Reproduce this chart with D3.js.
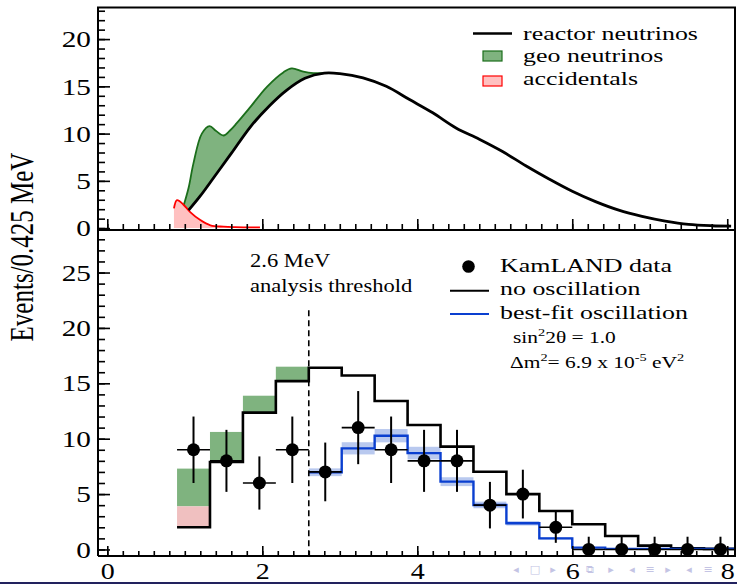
<!DOCTYPE html>
<html>
<head>
<meta charset="utf-8">
<title>KamLAND prompt energy spectrum</title>
<script src="https://d3js.org/d3.v7.min.js"></script>
<style>
body { margin: 0; background: #fff; }
svg { display: block; font-family: "Liberation Serif", "Times New Roman", serif; }
</style>
</head>
<body>
<div id="container"></div>
<script>
// ---------------- data ----------------
// top panel: expected spectra (smooth curves)
const reactorE = [1.05, 1.2, 1.4, 1.6, 1.85, 2.1, 2.3, 2.55, 2.8, 3.0, 3.3, 3.6, 3.9, 4.2, 4.5, 4.8, 5.1, 5.4, 5.7, 6.0, 6.3, 6.6, 6.9, 7.2, 7.5, 7.8, 8.05];
const reactorV = [1.9, 3.4, 5.65, 7.9, 10.75, 13.0, 14.5, 15.85, 16.4, 16.35, 15.9, 15.0, 13.6, 12.2, 10.6, 9.4, 8.1, 6.6, 5.2, 3.9, 2.8, 1.9, 1.25, 0.75, 0.4, 0.25, 0.2];
const geoTopE = [0.98, 1.05, 1.11, 1.22, 1.32, 1.4, 1.5, 1.58, 1.67, 1.845, 2.06, 2.275, 2.38, 2.53, 2.66, 2.8];
const geoTopV = [2.25, 4.3, 6.8, 10.0, 10.8, 10.3, 9.8, 10.3, 11.1, 12.8, 14.95, 16.5, 16.9, 16.55, 16.4, 16.4];
const accE = [0.86, 0.9, 0.98, 1.07, 1.2, 1.33, 1.5, 1.65, 1.97];
const accV = [2.08, 2.96, 2.5, 1.7, 0.85, 0.3, 0.15, 0.1, 0.07];

// bottom panel: 0.425 MeV bins
const binEdges = [0.9, 1.325, 1.75, 2.175, 2.6, 3.025, 3.45, 3.875, 4.3, 4.725, 5.15, 5.575, 6.0, 6.425, 6.85, 7.275, 7.7, 8.125];
const dataCounts = [9, 8, 6, 9, 7, 11, 9, 8, 8, 4, 5, 2, 0, 0, 0, 0, 0];
const dataErr = [3.0, 2.8, 2.4, 3.0, 2.65, 3.3, 3.0, 2.8, 2.8, 2.1, 2.2, 1.4, 1.15, 1.15, 1.15, 1.15, 1.15];
const noOscReactor = [2.0, 7.9, 12.35, 15.2, 16.4, 15.7, 13.4, 11.24, 9.28, 7.02, 5.0, 3.47, 2.27, 1.22, 0.35, 0.1, 0.05];
const accBins = [1.89, 0, 0, 0];
const geoBins = [3.41, 2.71, 1.53, 1.3];
const fitFirstBin = 4;
const bestFit = [6.97, 9.13, 10.27, 8.7, 6.12, 4.02, 2.36, 1.0, 0.17, 0.05, 0.05, 0.05, 0.05];
const bestFitErr = [0.35, 0.55, 0.6, 0.57, 0.4, 0.3, 0.2, 0.1, 0.05, 0, 0, 0, 0];
const threshold = 2.6;
const thresholdTop = 21.6;

const xTicks = [0, 2, 4, 6, 8];
const topYTicks = [0, 5, 10, 15, 20];
const botYTicks = [0, 5, 10, 15, 20, 25];

// ---------------- setup ----------------
const width = 737, height = 584;
const L = 98, R = 735, T = 7.5, M = 230, B = 556;

const svg = d3.select("#container").append("svg")
    .attr("width", width).attr("height", height);

const x = d3.scaleLinear().domain([-0.12, 8.1]).range([L, R]);
const yTop = d3.scaleLinear().domain([-0.2, 23.3]).range([M, 7.9]);
const yBot = d3.scaleLinear().domain([-0.59, 28.84]).range([B, M]);

const defs = svg.append("defs");
defs.append("clipPath").attr("id", "clipTop").append("rect")
    .attr("x", L).attr("y", T).attr("width", R - L).attr("height", M - T);
defs.append("clipPath").attr("id", "clipBot").append("rect")
    .attr("x", L).attr("y", M).attr("width", R - L).attr("height", B - M);

function addText(parent, px, py, size, sx, anchor) {
    return parent.append("text")
        .attr("transform", `translate(${px},${py}) scale(${sx},1)`)
        .attr("font-size", size)
        .attr("text-anchor", anchor || "start")
        .attr("fill", "#000");
}

function stretchLabels(sel, sx) {
    sel.selectAll("text").each(function() {
        const t = d3.select(this);
        const tx = +t.attr("x") || 0, ty = +t.attr("y") || 0;
        t.attr("x", 0).attr("y", 0)
         .attr("transform", `translate(${tx},${ty}) scale(${sx},1)`);
    });
}

function styleAxis(g) {
    g.select(".domain").remove();
    g.selectAll(".tick line").attr("stroke", "#000").attr("stroke-width", 1.6);
    g.selectAll("text").attr("font-size", 24).attr("font-family", "Liberation Serif, serif").attr("fill", "#000");
}

// ---------------- top panel ----------------
const topPanel = svg.append("g").attr("clip-path", "url(#clipTop)");
const curve = d3.curveCatmullRom.alpha(0.5);
const lineTop = d3.line().x(d => x(d[0])).y(d => yTop(d[1])).curve(curve);

const reactorPts = reactorE.map((e, i) => [e, reactorV[i]]);
const geoPts = geoTopE.map((e, i) => [e, geoTopV[i]]);
const lowerPts = reactorPts.filter(p => p[0] <= 2.8).reverse();
const geoPath = lineTop(geoPts) + "L" + lineTop(lowerPts).slice(1) + "Z";

topPanel.append("path").attr("d", geoPath)
    .attr("fill", "#7fb37f").attr("stroke", "none");
topPanel.append("path").attr("d", lineTop(geoPts))
    .attr("fill", "none").attr("stroke", "#1b6e1b").attr("stroke-width", 1.8);

const accPts = accE.map((e, i) => [e, accV[i]]);
topPanel.append("path")
    .attr("d", d3.area().x(d => x(d[0])).y0(yTop(0)).y1(d => yTop(d[1])).curve(curve)(accPts))
    .attr("fill", "#ffc0c0");
topPanel.append("path").attr("d", lineTop(accPts))
    .attr("fill", "none").attr("stroke", "#ff0000").attr("stroke-width", 1.8);

topPanel.append("path").attr("d", lineTop(reactorPts))
    .attr("fill", "none").attr("stroke", "#000").attr("stroke-width", 2.8);

// top axes
const topAxes = svg.append("g");
topAxes.append("g").attr("transform", `translate(${L},0)`)
    .call(d3.axisLeft(yTop).tickValues(d3.range(0, 24, 1)).tickSize(-7).tickFormat(""))
    .call(styleAxis);
const topY = topAxes.append("g").attr("transform", `translate(${L},0)`)
    .call(d3.axisLeft(yTop).tickValues(topYTicks).tickSize(-12).tickPadding(7))
    .call(styleAxis);
stretchLabels(topY, 1.22);
topAxes.append("g").attr("transform", `translate(0,${M})`)
    .call(d3.axisBottom(x).tickValues(d3.range(0, 8.1, 0.2)).tickSize(-6).tickFormat(""))
    .call(styleAxis);
topAxes.append("g").attr("transform", `translate(0,${M})`)
    .call(d3.axisBottom(x).tickValues(xTicks).tickSize(-11).tickFormat(""))
    .call(styleAxis);

// top legend
const tl = svg.append("g");
tl.append("line").attr("x1", 473).attr("x2", 512).attr("y1", 33.5).attr("y2", 33.5)
    .attr("stroke", "#000").attr("stroke-width", 2.5);
tl.append("rect").attr("x", 483).attr("y", 51).attr("width", 19).attr("height", 10)
    .attr("fill", "#7fb37f").attr("stroke", "#1b6e1b").attr("stroke-width", 1.2);
tl.append("rect").attr("x", 483).attr("y", 76).attr("width", 19).attr("height", 10)
    .attr("fill", "#ffc0c0").attr("stroke", "#ff0000").attr("stroke-width", 1.2);
addText(tl, 523, 39.5, 19.5, 1.33).text("reactor neutrinos");
addText(tl, 523, 62, 19.5, 1.33).text("geo neutrinos");
addText(tl, 523, 85, 19.5, 1.33).text("accidentals");

// ---------------- bottom panel ----------------
const bot = svg.append("g").attr("clip-path", "url(#clipBot)");

// stacked backgrounds in the first bins
geoBins.forEach((g, i) => {
    const base = noOscReactor[i] + accBins[i];
    bot.append("rect")
        .attr("x", x(binEdges[i])).attr("width", x(binEdges[i + 1]) - x(binEdges[i]))
        .attr("y", yBot(base + g)).attr("height", yBot(base) - yBot(base + g))
        .attr("fill", "#7fb37f");
});
accBins.forEach((a, i) => {
    if (a <= 0) return;
    const base = noOscReactor[i];
    bot.append("rect")
        .attr("x", x(binEdges[i])).attr("width", x(binEdges[i + 1]) - x(binEdges[i]))
        .attr("y", yBot(base + a)).attr("height", yBot(base) - yBot(base + a))
        .attr("fill", "#f0c0c0");
});

// best-fit uncertainty band
bestFit.forEach((v, j) => {
    const i = j + fitFirstBin, e = bestFitErr[j];
    if (e <= 0) return;
    bot.append("rect")
        .attr("x", x(binEdges[i])).attr("width", x(binEdges[i + 1]) - x(binEdges[i]))
        .attr("y", yBot(v + e)).attr("height", yBot(v - e) - yBot(v + e))
        .attr("fill", "#b9c9ef");
});

const step = d3.line().x(d => x(d[0])).y(d => yBot(d[1])).curve(d3.curveStepAfter);
function stepPts(vals, first) {
    const pts = vals.map((v, j) => [binEdges[j + first], v]);
    pts.push([binEdges[first + vals.length], vals[vals.length - 1]]);
    return pts;
}
bot.append("path").attr("d", step(stepPts(noOscReactor, 0)))
    .attr("fill", "none").attr("stroke", "#000").attr("stroke-width", 2.6);
bot.append("path").attr("d", step(stepPts(bestFit, fitFirstBin)))
    .attr("fill", "none").attr("stroke", "#0a3fd0").attr("stroke-width", 2.4);

// threshold
bot.append("line")
    .attr("x1", x(threshold)).attr("x2", x(threshold))
    .attr("y1", yBot(thresholdTop)).attr("y2", B)
    .attr("stroke", "#000").attr("stroke-width", 1.6).attr("stroke-dasharray", "6,4");

// data points
const pts = bot.append("g");
dataCounts.forEach((n, i) => {
    const c = (binEdges[i] + binEdges[i + 1]) / 2;
    const g = pts.append("g");
    g.append("line")
        .attr("x1", x(c)).attr("x2", x(c))
        .attr("y1", yBot(n + dataErr[i])).attr("y2", yBot(Math.max(0, n - dataErr[i])))
        .attr("stroke", "#000").attr("stroke-width", 2);
    g.append("line")
        .attr("x1", x(binEdges[i])).attr("x2", x(binEdges[i + 1]))
        .attr("y1", yBot(n)).attr("y2", yBot(n))
        .attr("stroke", "#000").attr("stroke-width", 1.6);
    g.append("circle").attr("cx", x(c)).attr("cy", yBot(n)).attr("r", 6.5).attr("fill", "#000");
});

// bottom axes
const botAxes = svg.append("g");
botAxes.append("g").attr("transform", `translate(${L},0)`)
    .call(d3.axisLeft(yBot).tickValues(d3.range(0, 29, 1)).tickSize(-7).tickFormat(""))
    .call(styleAxis);
const botY = botAxes.append("g").attr("transform", `translate(${L},0)`)
    .call(d3.axisLeft(yBot).tickValues(botYTicks).tickSize(-12).tickPadding(7))
    .call(styleAxis);
stretchLabels(botY, 1.22);
botAxes.append("g").attr("transform", `translate(0,${B})`)
    .call(d3.axisBottom(x).tickValues(d3.range(0, 8.1, 0.2)).tickSize(-5).tickFormat(""))
    .call(styleAxis);
const botX = botAxes.append("g").attr("transform", `translate(0,${B})`)
    .call(d3.axisBottom(x).tickValues(xTicks).tickSize(-10).tickPadding(7))
    .call(styleAxis);
botX.selectAll("text").attr("font-size", 23);
stretchLabels(botX, 1.22);

// frame
svg.append("path")
    .attr("d", `M${L},${B}V${T}H${R}V${B}H${L}M${L},${M}H${R}`)
    .attr("fill", "none").attr("stroke", "#000").attr("stroke-width", 2);

// annotations
const ann = svg.append("g");
addText(ann, 250, 267.3, 18.5, 1.22).text("2.6 MeV");
addText(ann, 250, 291.7, 18.5, 1.22).text("analysis threshold");

// bottom legend
const bl = svg.append("g");
bl.append("circle").attr("cx", 468.5).attr("cy", 266.5).attr("r", 6.3).attr("fill", "#000");
bl.append("line").attr("x1", 450).attr("x2", 489).attr("y1", 290.7).attr("y2", 290.7)
    .attr("stroke", "#000").attr("stroke-width", 2);
bl.append("line").attr("x1", 450).attr("x2", 489).attr("y1", 314).attr("y2", 314)
    .attr("stroke", "#0a3fd0").attr("stroke-width", 2);
addText(bl, 500, 271.5, 19.5, 1.33).text("KamLAND data");
addText(bl, 500, 295, 19.5, 1.33).text("no oscillation");
addText(bl, 500, 318.5, 19.5, 1.33).text("best-fit oscillation");

const s1 = addText(bl, 513, 343.3, 16.5, 1.3);
s1.append("tspan").text("sin");
s1.append("tspan").attr("font-size", 11).attr("dy", -7).text("2");
s1.append("tspan").attr("dy", 7).text("2\u03b8 = 1.0");
const s2 = addText(bl, 510, 367.7, 16.5, 1.3);
s2.append("tspan").text("\u0394m");
s2.append("tspan").attr("font-size", 11).attr("dy", -7).text("2");
s2.append("tspan").attr("dy", 7).text("= 6.9 x 10");
s2.append("tspan").attr("font-size", 11).attr("dy", -7).text("-5");
s2.append("tspan").attr("dy", 7).text(" eV");
s2.append("tspan").attr("font-size", 11).attr("dy", -7).text("2");

// y label
svg.append("text")
    .attr("transform", "translate(33,247) scale(1.35,1) rotate(-90)")
    .attr("font-size", 25).attr("text-anchor", "middle")
    .text("Events/0.425 MeV");

// slide footer
const nav = svg.append("g").attr("fill", "#c4c4e4").attr("font-family", "DejaVu Sans, sans-serif").attr("font-size", 11).attr("text-anchor", "middle");
[[516, "\u25c2"], [535, "\u25a1"], [553, "\u25b8"], [590, "\u29c9"], [611, "\u25b8"], [632, "\u25c2"], [650, "\u2261"], [668, "\u25b8"], [689, "\u25c2"], [708, "\u2261"]]
    .forEach(d => nav.append("text").attr("x", d[0]).attr("y", 573).text(d[1]));
svg.append("rect").attr("x", 0).attr("y", 582).attr("width", width).attr("height", 2).attr("fill", "#22225e");
</script>
</body>
</html>
